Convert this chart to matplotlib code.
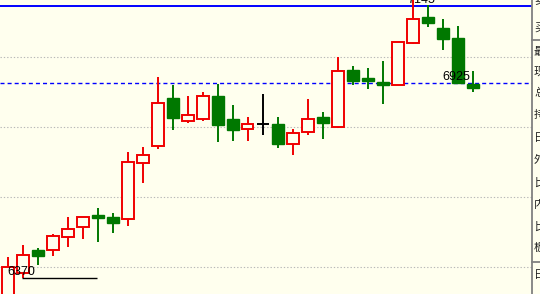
import matplotlib
matplotlib.use("Agg")
import matplotlib.pyplot as plt
from matplotlib.patches import Rectangle

# Candle data
opens  = [6300, 6382, 6449, 6448, 6487, 6513, 6549, 6543, 6538, 6698, 6747, 6882,
          6818, 6822, 6888, 6823, 6793, 6808, 6809, 6752, 6787, 6829, 6801, 6963,
          6940, 6929, 6919, 7041, 7114, 7083, 7054, 6922]
highs  = [6429, 6463, 6453, 6493, 6543, 6542, 6569, 6554, 6729, 6743, 6943, 6919,
          6889, 6900, 6922, 6863, 6829, 6894, 6829, 6794, 6880, 6843, 7000, 6974,
          6969, 6988, 7042, 7170, 7149, 7109, 7089, 6960]
lows   = [6260, 6370, 6406, 6432, 6458, 6479, 6472, 6498, 6518, 6641, 6738, 6792,
          6812, 6818, 6758, 6761, 6761, 6778, 6741, 6721, 6778, 6767, 6798, 6921,
          6908, 6867, 6919, 7038, 7087, 7020, 6925, 6901]
closes = [6401, 6433, 6431, 6488, 6508, 6542, 6541, 6527, 6699, 6719, 6868, 6827,
          6833, 6888, 6807, 6792, 6808, 6808, 6752, 6782, 6822, 6812, 6959, 6932,
          6932, 6919, 7042, 7108, 7098, 7052, 6925, 6912]

grid_levels = [7000, 6800, 6600, 6400]
max_price = 7145
last_price = 6925
low_price = 6370

panel_labels = ["卖", "买", "最", "现", "总", "持", "日", "外", "比", "内", "比", "板", "日"]
panel_label_y = [0, 28, 52, 72, 93, 115, 138, 160, 183, 205, 227, 248, 275]  # pixel rows

bg = "#FFFFEE"
red = "#F00000"
green = "#007800"

fig = plt.figure(figsize=(5.4, 2.94), dpi=100, facecolor=bg)
ax = fig.add_axes([0, 0, 532 / 540, 1])
ax.set_facecolor(bg)
for s in ax.spines.values():
    s.set_visible(False)
ax.set_xticks([])
ax.set_yticks([])

ax.set_xlim(-0.5, -0.5 + 532 / 15)
ax.set_ylim(7000 - (294 - 57) / 0.35, 7000 + 57 / 0.35)

for g in grid_levels:
    ax.axhline(g, color="#B8B8B8", lw=0.8, ls=(0, (1.2, 1.8)), zorder=1)
ax.axhline(max_price, color="#0000FF", lw=1.4, zorder=1)
ax.axhline(last_price, color="#0000FF", lw=1.0, ls=(0, (2.9, 2.2)), zorder=1)

w = 0.8
for i, (o, h, l, c) in enumerate(zip(opens, highs, lows, closes)):
    top, bot = max(o, c), min(o, c)
    if c > o:
        ax.vlines(i, top, h, color=red, lw=1.4, zorder=2)
        ax.vlines(i, l, bot, color=red, lw=1.4, zorder=2)
        ax.add_patch(Rectangle((i - w / 2, bot), w, top - bot, facecolor=bg,
                               edgecolor=red, lw=1.4, zorder=3))
    elif c < o:
        ax.vlines(i, l, h, color=green, lw=1.4, zorder=2)
        ax.add_patch(Rectangle((i - w / 2, bot), w, top - bot, facecolor=green,
                               edgecolor=green, lw=1.0, zorder=3))
    else:
        ax.vlines(i, l, h, color="black", lw=1.4, zorder=2)
        ax.hlines(c, i - w / 2, i + w / 2, color="black", lw=1.4, zorder=3)

# price markers
ax.text(27.6, 7147, str(max_price), fontsize=9, family="Liberation Sans",
        ha="center", va="bottom", zorder=5)
ax.text(29.93, 6943, str(last_price), fontsize=9, family="Liberation Sans",
        ha="center", va="center", zorder=5)
ax.text(0.93, 6387, str(low_price), fontsize=9, family="Liberation Sans",
        ha="center", va="center", zorder=5)
ax.hlines(low_price, 0.97, 5.97, color="black", lw=1.0, zorder=4)

# right-side quote panel (mostly cut off)
fig.add_artist(plt.Line2D([531.5 / 540] * 2, [0, 1], color="#808080", lw=1.3))
for yy in [40, 262]:
    fig.add_artist(plt.Line2D([531.5 / 540, 1], [1 - yy / 294] * 2, color="#808080", lw=1.3))
for t, yy in zip(panel_labels, panel_label_y):
    fig.text(534 / 540, 1 - yy / 294, t, fontsize=8, color="#202020",
             family=["Noto Sans CJK SC", "DejaVu Sans"], ha="left", va="center")

fig.savefig("out.png", dpi=100, facecolor=bg)
